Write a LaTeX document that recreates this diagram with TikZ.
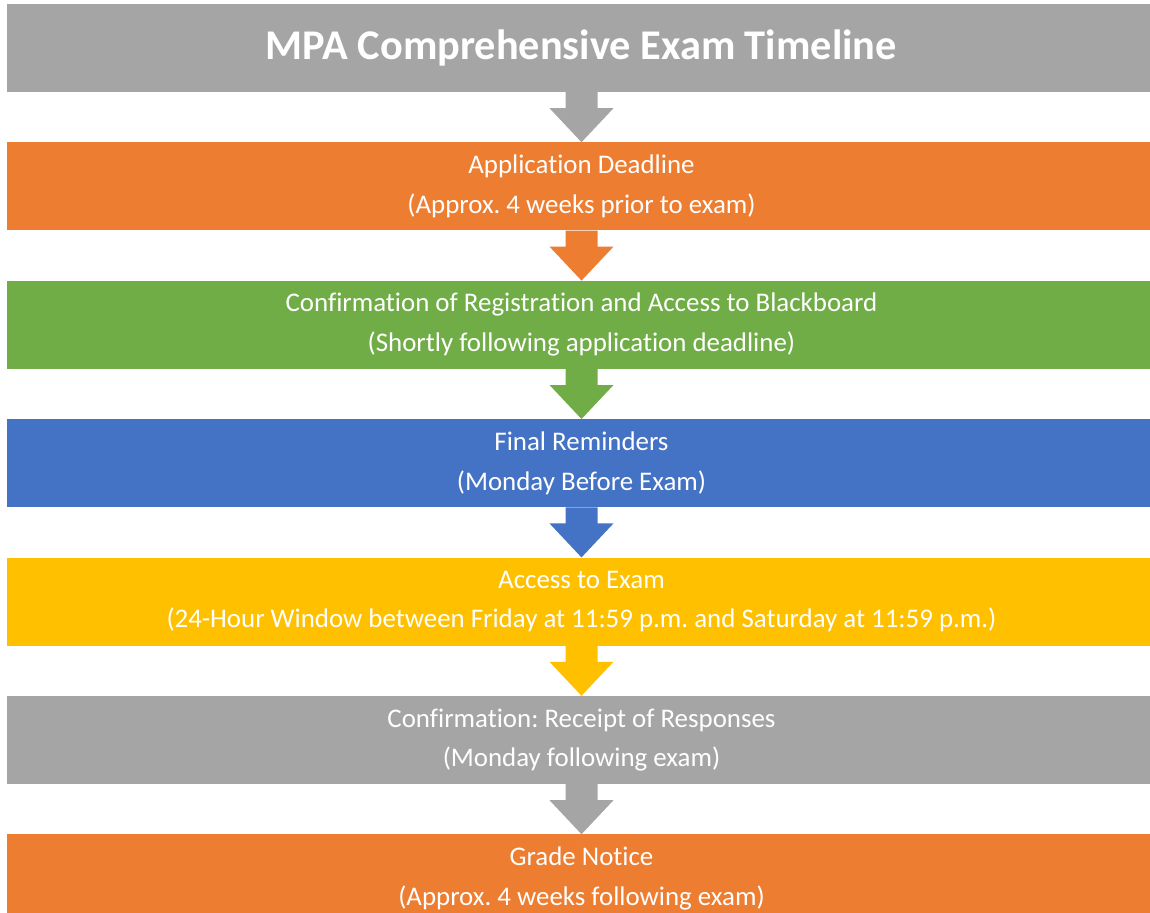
\documentclass[tikz,border=0pt]{standalone}
\usepackage{fontspec}
\setmainfont[Ligatures=CommonOff]{Carlito}
\usetikzlibrary{positioning,calc}
\frenchspacing

\definecolor{tlgray}{HTML}{A5A5A5}
\definecolor{tlorange}{HTML}{ED7D31}
\definecolor{tlgreen}{HTML}{70AD47}
\definecolor{tlblue}{HTML}{4472C4}
\definecolor{tlgold}{HTML}{FFC000}

\tikzset{
  stage/.style={minimum width=1149bp, minimum height=88bp, inner sep=0pt,
    text=white, align=center, font=\fontsize{27}{40}\selectfont},
  banner/.style={stage, font=\fontsize{42.5}{44}\selectfont\bfseries},
}

\begin{document}
\begin{tikzpicture}[x=1bp,y=1bp,node distance=50bp]
        \useasboundingbox (0,0) rectangle (1150,-913);

        \node[banner,fill=tlgray] (title) at (581.5,-48) {MPA Comprehensive Exam Timeline};
        \node[stage,fill=tlorange,below=of title] (apply) {Application Deadline\\(Approx. 4 weeks prior to exam)};
        \node[stage,fill=tlgreen,below=of apply] (confirm) {Confirmation of Registration and Access to Blackboard\\(Shortly following application deadline)};
        \node[stage,fill=tlblue,below=of confirm] (remind) {Final Reminders\\(Monday Before Exam)};
        \node[stage,fill=tlgold,below=of remind] (access) {Access to Exam\\(24-Hour Window between Friday at 11:59 p.m. and Saturday at 11:59 p.m.)};
        \node[stage,fill=tlgray,below=of access] (receipt) {Confirmation: Receipt of Responses\\(Monday following exam)};
        \node[stage,fill=tlorange,below=of receipt] (grade) {Grade Notice\\(Approx. 4 weeks following exam)};

        % block arrows between the stages
        \foreach \a/\b/\c in {title/apply/tlgray, apply/confirm/tlorange, confirm/remind/tlgreen,
                              remind/access/tlblue, access/receipt/tlgold, receipt/grade/tlgray}
          \fill[\c] ($(\a.south)+(-16,0)$) -- ($(\a.south)+(-16,-16)$) -- ($(\a.south)+(-32,-16)$)
            -- (\b.north) -- ($(\a.south)+(32,-16)$) -- ($(\a.south)+(16,-16)$) -- ($(\a.south)+(16,0)$) -- cycle;
\end{tikzpicture}
\end{document}
